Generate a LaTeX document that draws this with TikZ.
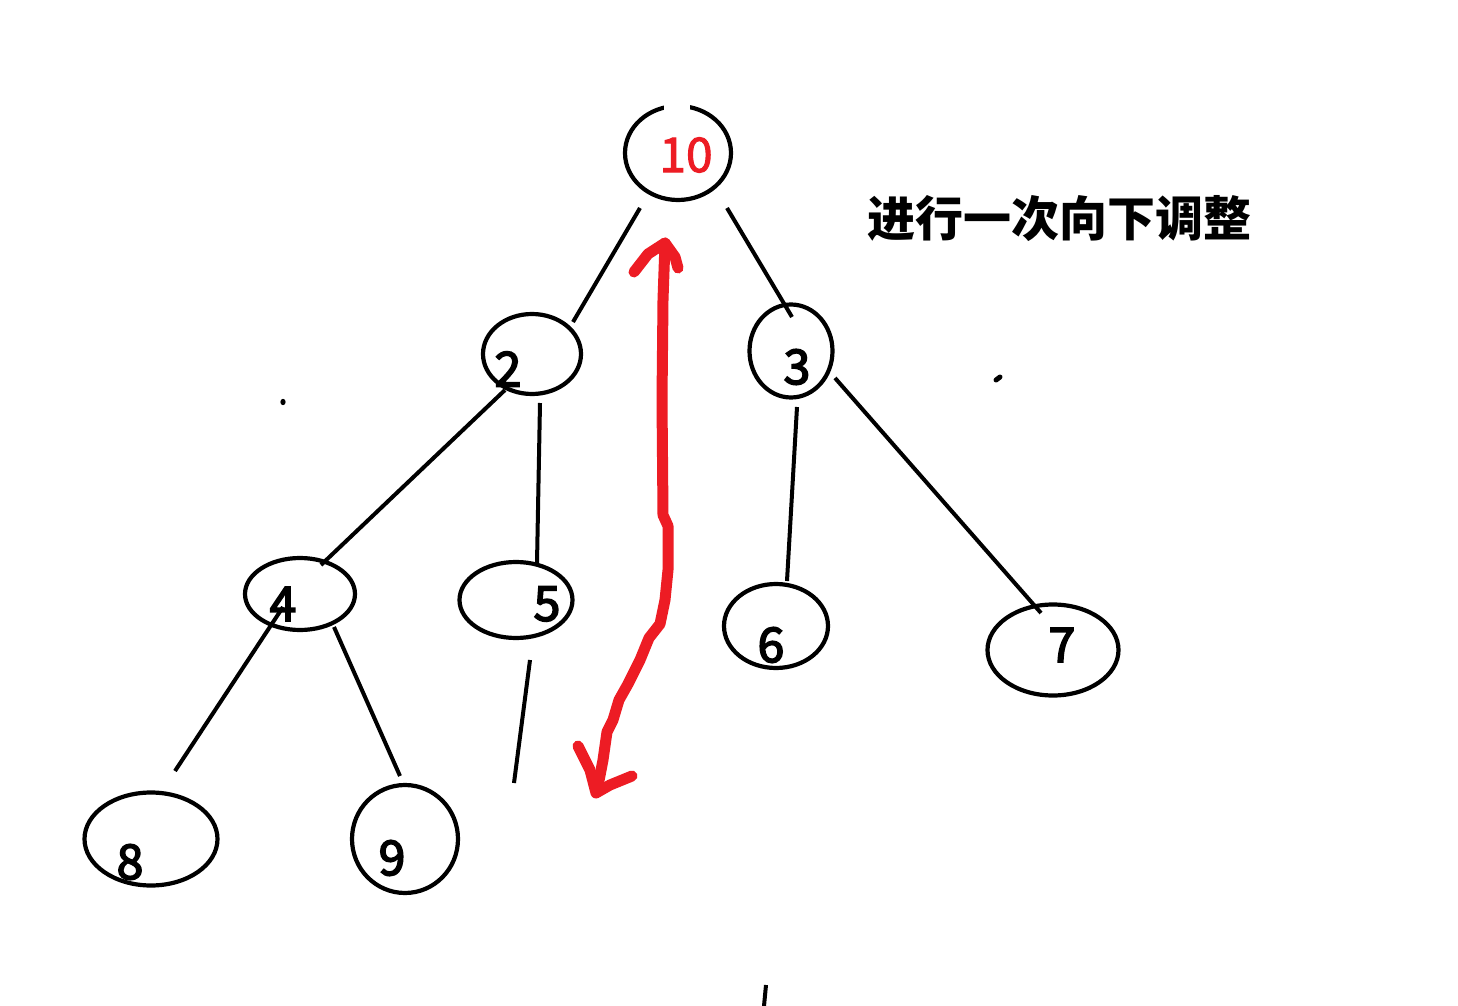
\documentclass[tikz,border=0pt]{standalone}
\usepackage{fontspec}
\newfontfamily\cjk{Noto Sans CJK SC}
\newfontfamily\numfont[FakeBold=3.5]{Noto Sans CJK SC}
\newfontfamily\tennumfont[FakeBold=2]{Noto Sans CJK SC}
\usetikzlibrary{shapes.geometric}
\definecolor{pred}{RGB}{237,28,36}
\tikzset{
  ell/.style={draw=black, line width=2.1pt, ellipse, inner sep=0pt},
  num/.style={inner sep=0pt, font=\numfont\fontsize{24}{24}\selectfont},
  edge/.style={draw=black, line width=2pt},
  redpen/.style={draw=pred, line width=5.5pt, line cap=round, line join=round},
}
\begin{document}
\begin{tikzpicture}[x=0.5pt,y=-0.5pt]
\useasboundingbox[fill=white] (0,0) rectangle (1458,1006);
% ellipses
\node[ell, minimum width=53pt, minimum height=47pt] (n10) at (678,153) {};
\fill[white] (664,96) rectangle (690,112);
\node[ell, minimum width=49pt, minimum height=40pt] (n2) at (532,354) {};
\node[ell, minimum width=41.5pt, minimum height=46.5pt] (n3) at (791,351) {};
\node[ell, minimum width=55pt, minimum height=36pt] (n4) at (300,594) {};
\node[ell, minimum width=56.5pt, minimum height=38pt] (n5) at (516,600) {};
\node[ell, minimum width=52pt, minimum height=42pt] (n6) at (776,626) {};
\node[ell, minimum width=65.5pt, minimum height=45.5pt] (n7) at (1053,650) {};
\node[ell, minimum width=66.5pt, minimum height=46.5pt] (n8) at (151,839) {};
\node[ell, minimum width=53pt, minimum height=54pt] (n9) at (405,839) {};
% labels
\node[inner sep=0pt, font=\tennumfont\fontsize{24}{24}\selectfont, text=pred] (l10) at (686,155) {10};
\node[num] (l2) at (508,369) {2};
\node[num] (l3) at (797,367) {3};
\node[num] (l4) at (283,604) {4};
\node[num] (l5) at (547,604) {5};
\node[num] (l6) at (771,645) {6};
\node[num] (l7) at (1062,645) {7};
\node[num] (l8) at (130,862) {8};
\node[num] (l9) at (392,858) {9};
\node[inner sep=0pt, font=\cjk\bfseries\fontsize{24}{24}\selectfont] (title) at (1059,219) {进行一次向下调整};
% connector end points
\coordinate (a1) at (640,208); \coordinate (b1) at (573,322);
\coordinate (a2) at (727,208); \coordinate (b2) at (792,317);
\coordinate (a3) at (505,390); \coordinate (b3) at (321,565);
\coordinate (a4) at (540,403); \coordinate (b4) at (537,563);
\coordinate (a5) at (797,407); \coordinate (b5) at (787,581);
\coordinate (a6) at (835,378); \coordinate (b6) at (1041,613);
\coordinate (a7) at (283,607); \coordinate (b7) at (175,771);
\coordinate (a8) at (334,627); \coordinate (b8) at (400,776);
\coordinate (a9) at (530,660); \coordinate (b9) at (514,783);
\draw[edge] (a1) -- (b1);
\draw[edge] (a2) -- (b2);
\draw[edge] (a3) -- (b3);
\draw[edge] (a4) -- (b4);
\draw[edge] (a5) -- (b5);
\draw[edge] (a6) -- (b6);
\draw[edge] (a7) -- (b7);
\draw[edge] (a8) -- (b8);
\draw[edge] (a9) -- (b9);
% red hand-drawn double arrow
\draw[redpen] (665,243) -- (663,300) -- (662,400) -- (663,515) -- (668,526) -- (668,570) -- (665,600) -- (660,624) -- (649,638) -- (640,660) -- (628,684) -- (619,700) -- (613,720) -- (607,732) -- (603,760) -- (597,791);
\draw[redpen] (634,272) -- (648,254) -- (665,243) -- (675,257) -- (678,268);
\draw[redpen] (578,746) -- (590,770) -- (596,793) -- (610,785) -- (632,776);
% stray marks
\fill[black] (283,402) ellipse[x radius=1.3pt, y radius=1.6pt];
\draw[line width=2.5pt, line cap=round] (996,380) -- (1000,377);
\draw[line width=2pt] (766,985) -- (764,1006);
\end{tikzpicture}
\end{document}
